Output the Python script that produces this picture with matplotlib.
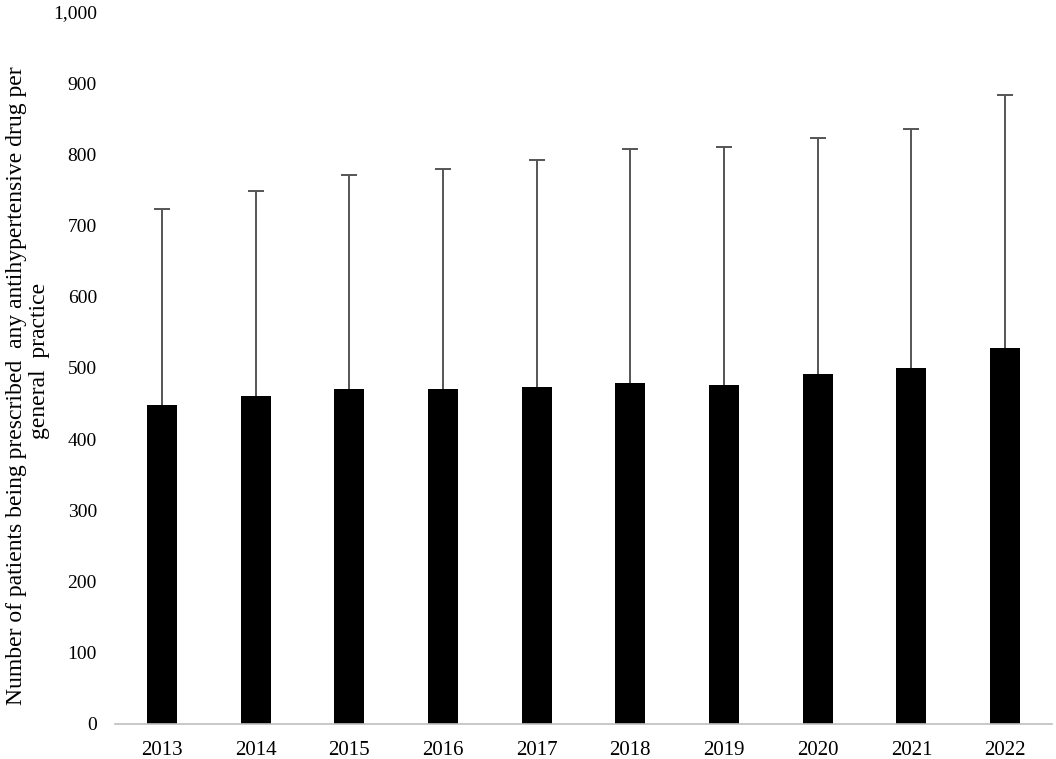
import matplotlib
matplotlib.use("Agg")
import matplotlib.pyplot as plt
import numpy as np

years = ["2013", "2014", "2015", "2016", "2017", "2018", "2019", "2020", "2021", "2022"]
means = [448, 461, 470, 470, 473, 479, 476, 492, 500, 528]
upper = [724, 749, 771, 780, 792, 807, 810, 823, 835, 883]
yticks = [0, 100, 200, 300, 400, 500, 600, 700, 800, 900, 1000]

plt.rcParams['font.family'] = ['Liberation Serif', 'DejaVu Serif']

fig = plt.figure(figsize=(10.56, 7.59), dpi=100)
ax = fig.add_axes([115/1056, 35/759, (1052-115)/1056, (724-12)/759])

x = np.arange(len(years))
err_up = np.array(upper) - np.array(means)
ax.bar(x, means, width=0.32, color='black', zorder=2)
eb = ax.errorbar(x, means, yerr=[np.zeros(len(x)), err_up], fmt='none',
                 ecolor='#555555', elinewidth=1.4, capsize=6, capthick=1.4, zorder=3)
# hide the lower caps (zero lower error)
eb[1][0].set_visible(False)

ax.set_xlim(-0.5, len(years) - 0.5)
ax.set_ylim(0, 1000)
ax.set_yticks(yticks)
ax.set_yticklabels([f"{v:,}" for v in yticks])
ax.set_xticks(x)
ax.set_xticklabels(years)
ax.tick_params(axis='y', length=0, labelsize=14, colors='black', pad=13)
ax.tick_params(axis='x', length=0, labelsize=15, colors='black', pad=12)
for s in ['top', 'right', 'left']:
    ax.spines[s].set_visible(False)
ax.spines['bottom'].set_color('#bfbfbf')
ax.spines['bottom'].set_linewidth(1.2)

ax.set_ylabel("Number of patients being prescribed  any antihypertensive drug per", fontsize=17)
ax.yaxis.set_label_coords(-0.0939, 0.475)
ax.text(-0.0694, 0.51, "general  practice", transform=ax.transAxes, fontsize=17,
        rotation=90, rotation_mode='anchor', ha='center', va='bottom')

fig.savefig("out.png", dpi=100)
